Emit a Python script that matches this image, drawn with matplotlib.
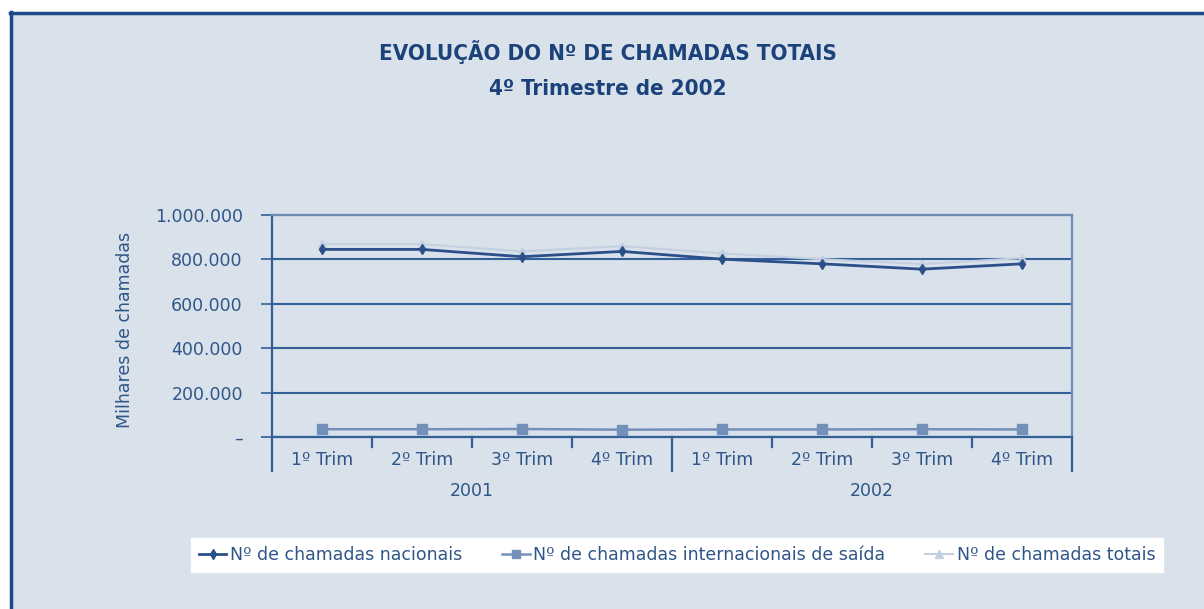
import numpy as np
import matplotlib
matplotlib.use("Agg")
import matplotlib.pyplot as plt
from matplotlib.patches import Rectangle
from matplotlib.lines import Line2D

# data (milhares de chamadas)
trimestres = ["1º Trim", "2º Trim", "3º Trim", "4º Trim",
              "1º Trim", "2º Trim", "3º Trim", "4º Trim"]
anos = ["2001", "2002"]
nacionais = [845000, 845000, 812000, 836000, 801000, 780000, 756000, 780000]
internacionais = [35000, 35000, 36000, 33000, 34000, 34000, 35000, 34000]
totais = [869000, 869000, 836000, 860000, 827000, 801000, 779000, 806000]
yticks = [0, 200000, 400000, 600000, 800000, 1000000]
yticklabels = ["–", "200.000", "400.000", "600.000", "800.000", "1.000.000"]

BG = "#d9e1ea"
NAVY = "#1c427c"
TXT = "#2f5688"
GRID = "#34609a"

W, H = 1204, 609
fig = plt.figure(figsize=(W / 100, H / 100), dpi=100, facecolor="white")

# background panel with border on top/left
fig.patches.append(Rectangle((10 / W, 0), 1, 1 - 12 / H, transform=fig.transFigure,
                             facecolor=BG, edgecolor="none", zorder=-10))
fig.lines.append(Line2D([11 / W, 11 / W], [0, 1 - 12 / H], transform=fig.transFigure,
                        color="#1d4a8a", lw=2.5))
fig.lines.append(Line2D([10 / W, 1], [1 - 13 / H, 1 - 13 / H], transform=fig.transFigure,
                        color="#1d4a8a", lw=2.5))

# condensed title (falls back to regular width if no condensed face is installed)
fig.text(0.505, 1 - 52 / H, "EVOLUÇÃO DO Nº DE CHAMADAS TOTAIS", ha="center", va="center",
         fontsize=16, fontweight="bold", fontstretch="condensed", color=NAVY)
fig.text(0.505, 1 - 89 / H, "4º Trimestre de 2002", ha="center", va="center",
         fontsize=16, fontweight="bold", fontstretch="condensed", color=NAVY)

ax = fig.add_axes([272 / W, 1 - 437 / H, 800 / W, 222 / H])
ax.set_facecolor("none")
x = np.arange(len(trimestres))

ax.plot(x, totais, color="#c3d0e0", lw=1.5, marker="^", ms=6, zorder=3)
ax.plot(x, nacionais, color="#2b5089", lw=2, marker="d", ms=5, zorder=4)
ax.plot(x, internacionais, color="#7290b8", lw=1.8, marker="s", ms=7, zorder=3)

ax.set_xlim(-0.5, len(trimestres) - 0.5)
ax.set_ylim(0, 1000000)
ax.set_yticks(yticks)
ax.set_yticklabels(yticklabels)
ax.yaxis.grid(True, color=GRID, lw=1.5)
ax.set_axisbelow(True)
ax.tick_params(axis="y", length=8, width=1.2, color=GRID, pad=13, labelsize=12.5, labelcolor=TXT)
ax.set_xticks(x)
ax.set_xticklabels(trimestres)
ax.tick_params(axis="x", length=0, pad=10, labelsize=12.5, labelcolor=TXT)

for side in ("left", "bottom"):
    ax.spines[side].set_color(GRID)
    ax.spines[side].set_linewidth(1.6)
for side in ("top", "right"):
    ax.spines[side].set_color("#6f8db4")
    ax.spines[side].set_linewidth(1.6)

# category separators below the axis
tr = ax.get_xaxis_transform()
for b in np.arange(-0.5, len(trimestres), 1.0):
    long_sep = b in (-0.5, 3.5, len(trimestres) - 0.5)
    ax.plot([b, b], [0, -0.155 if long_sep else -0.045], transform=tr,
            color=GRID, lw=1.6, clip_on=False)
for i, ano in enumerate(anos):
    ax.text(1.5 + 4 * i, -0.245, ano, transform=tr, ha="center", va="center",
            fontsize=12.5, color=TXT)

fig.text(125 / W, 1 - 330 / H, "Milhares de chamadas", rotation=90, ha="center", va="center",
         fontsize=12.5, color=TXT)

handles = [
    Line2D([], [], color="#2b5089", lw=2, marker="d", ms=5),
    Line2D([], [], color="#7290b8", lw=1.8, marker="s", ms=6),
    Line2D([], [], color="#c3d0e0", lw=1.5, marker="^", ms=6),
]
labels = ["Nº de chamadas nacionais", "Nº de chamadas internacionais de saída",
          "Nº de chamadas totais"]
leg = fig.legend(handles, labels, loc="center", bbox_to_anchor=(677 / W, 1 - 555 / H),
                 ncol=3, frameon=True, fancybox=False, edgecolor="white", facecolor="white",
                 framealpha=1, fontsize=12.5, handlelength=1.6, handletextpad=0.2,
                 columnspacing=2.3, borderpad=0.45)
for t in leg.get_texts():
    t.set_color(TXT)

fig.savefig("out.png", dpi=100, facecolor="white")
